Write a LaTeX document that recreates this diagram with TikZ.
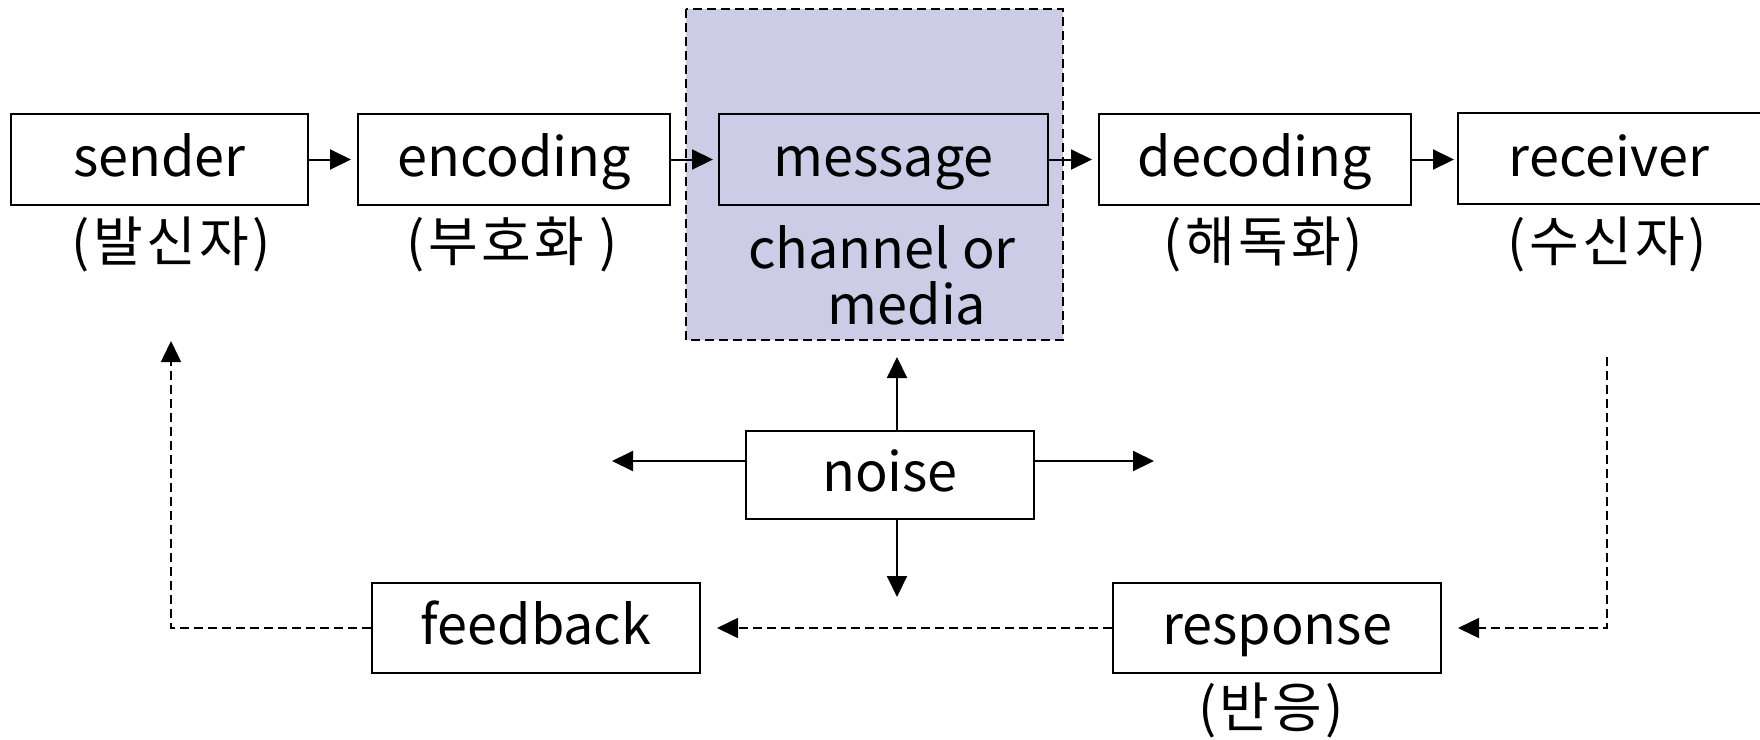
\documentclass[tikz,border=0pt]{standalone}
\usepackage{fontspec}
\setmainfont{Noto Sans CJK KR}
\newfontfamily\korlab[LetterSpace=6]{Noto Sans CJK KR}
\usetikzlibrary{arrows.meta}
\definecolor{chanfill}{RGB}{204,204,230}
\begin{document}
\begin{tikzpicture}[x=1pt,y=-1pt,
  box/.style={draw=black,line width=2pt,minimum height=91pt,inner sep=0pt,text height=45pt,text depth=12pt,font=\fontsize{54}{60}\selectfont},
  txt/.style={inner sep=0pt,font=\fontsize{54}{60}\selectfont},
  kor/.style={inner sep=0pt,font=\fontsize{54}{60}\korlab},
  arr/.style={line width=2pt,-{Triangle[length=21pt,width=20pt]}},
  darr/.style={line width=1.6pt,dash pattern=on 9pt off 5pt,-{Triangle[length=21pt,width=20pt]}}]
\useasboundingbox (0,0) rectangle (1760,739);
\begin{scope}
\clip (0,0) rectangle (1760,739);
% channel background
\filldraw[fill=chanfill,draw=black,line width=1.6pt,dash pattern=on 9pt off 5pt] (686,9) rectangle (1063,340);
% top row
\node[box,minimum width=297pt] (sender) at (159.5,159.5) {sender};
\node[box,minimum width=312pt] (encoding) at (514,159.5) {encoding};
\node[box,minimum width=329pt] (message) at (883.5,159.5) {message};
\node[box,minimum width=312pt] (decoding) at (1255,159.5) {decoding};
\node[box,draw=none,minimum width=300pt] (receiver) at (1609,159.5) {receiver};
\draw[line width=2pt] (receiver.north west) rectangle ++(400,91);
% labels
\node[kor] (l1) at (171,244) {(발신자)};
\node[kor] (l2) at (512,244) {(부호화 )};
\node[kor] (l3) at (1263,244) {(해독화)};
\node[kor] (l4) at (1607,244) {(수신자)};
\node[txt] (chan1) at (882,247) {channel or};
\node[txt] (chan2) at (907,303) {media};
% arrows top
\draw[arr,shorten >=6pt] (sender) -- (encoding);
\draw[arr,shorten >=5pt] (encoding) -- (message);
\draw[arr,shorten >=6pt] (message) -- (decoding);
\draw[arr,shorten >=4pt] (decoding) -- (receiver);
% noise
\node[box,minimum width=288pt,minimum height=88pt] (noise) at (890,475) {noise};
\coordinate (nup) at (897,357);
\coordinate (ndown) at (897,597);
\coordinate (nleft) at (612,461);
\coordinate (nright) at (1154,461);
\draw[arr] (noise.north -| nup) -- (nup);
\draw[arr] (noise.south -| ndown) -- (ndown);
\draw[arr] (noise.west |- nleft) -- (nleft);
\draw[arr] (noise.east |- nright) -- (nright);
% bottom
\node[box,minimum width=328pt,minimum height=90pt] (feedback) at (536,628) {feedback};
\node[box,minimum width=328pt,minimum height=90pt] (response) at (1277,628) {response};
\node[kor] (l5) at (1271,710) {(반응)};
\coordinate (rtop) at (1607,357);
\coordinate (stip) at (171,341);
\draw[darr,shorten >=16pt] (rtop) |- (response.east);
\draw[darr,shorten >=16pt] (response.west) -- (feedback.east);
\draw[darr] (feedback.west) -| (stip);
\end{scope}
\end{tikzpicture}
\end{document}
